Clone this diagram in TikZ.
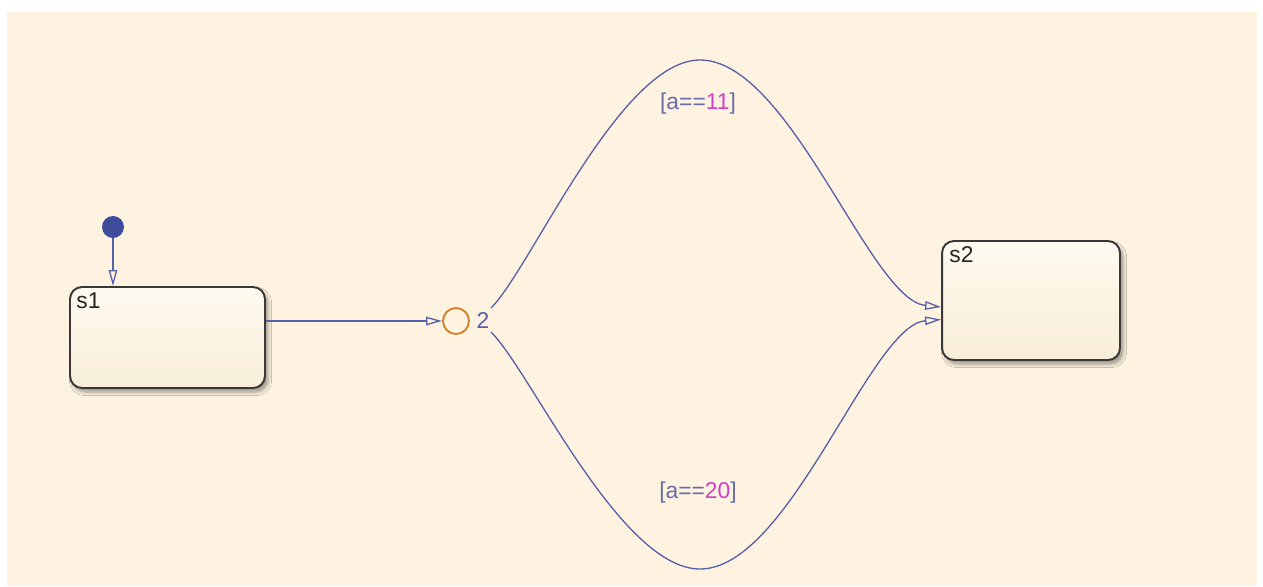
\documentclass[tikz,border=0pt]{standalone}
\usepackage{fontspec}
\setmainfont{Liberation Sans}
\usetikzlibrary{arrows.meta,calc,shadows.blur}
\definecolor{bgcream}{RGB}{254,243,224}
\definecolor{sttop}{RGB}{254,250,240}
\definecolor{stbot}{RGB}{248,238,216}
\definecolor{stedge}{RGB}{56,56,56}
\definecolor{trblue}{RGB}{88,96,170}
\definecolor{dotblue}{RGB}{62,76,156}
\definecolor{jorange}{RGB}{212,130,46}
\definecolor{grdtxt}{RGB}{105,108,168}
\definecolor{grdnum}{RGB}{208,64,200}
\begin{document}
\begin{tikzpicture}[x=0.02cm,y=-0.02cm,every node/.style={font=\fontsize{13}{15}\selectfont},
  state/.style={draw=stedge,line width=1.1pt,rounded corners=0.24cm,top color=sttop,bottom color=stbot,
    blur shadow={shadow xshift=0.06cm,shadow yshift=-0.08cm,shadow opacity=40,shadow blur steps=6}},
  trans/.style={trblue,line width=0.75pt,-{Triangle[open,length=0.32cm,width=0.17cm]}},
  guard/.style={text=grdtxt,inner sep=1pt}]
% Stateflow chart: s1 -> junction -> s2 on two guarded paths
\useasboundingbox (0,0) rectangle (1263,586);
\fill[bgcream] (7,12) rectangle (1257,586);
\node[state,minimum width=3.9cm,minimum height=2.02cm] (s1) at (167.5,337.5) {};
\node[state,minimum width=3.56cm,minimum height=2.38cm] (s2) at (1031,300.5) {};
\node[anchor=base west,inner sep=0pt,text=black!85] (s1name) at ($(s1.north west)+(7,22)$) {s1};
\node[anchor=base west,inner sep=0pt,text=black!85] (s2name) at ($(s2.north west)+(8,22)$) {s2};
\node[circle,fill=dotblue,minimum size=0.44cm,inner sep=0pt] (dflt) at (113,227) {};
\node[circle,draw=jorange,line width=1.1pt,fill=bgcream,minimum size=0.52cm,inner sep=0pt] (jn) at (456,321) {};
\node[text=trblue,inner sep=1pt] (prio) at (483,321) {2};
\draw[trans] (dflt) -- (dflt |- s1.north);
\draw[trans] (jn.west -| s1.east) -- (jn.west);
\draw[trans] ($(jn.east)+(21,-13)$) .. controls (530,270) and (620,60) .. (700,60) .. controls (790,60) and (870,300) .. ($(s2.west)+(0,6.5)$);
\draw[trans] ($(jn.east)+(21,11)$) .. controls (530,370) and (620,569) .. (700,569) .. controls (790,569) and (870,325) .. ($(s2.west)+(0,19)$);
\node[guard] (g11) at (698,104) {[a==\textcolor{grdnum}{11}]};
\node[guard] (g20) at (698,493) {[a==\textcolor{grdnum}{20}]};
\end{tikzpicture}
\end{document}
